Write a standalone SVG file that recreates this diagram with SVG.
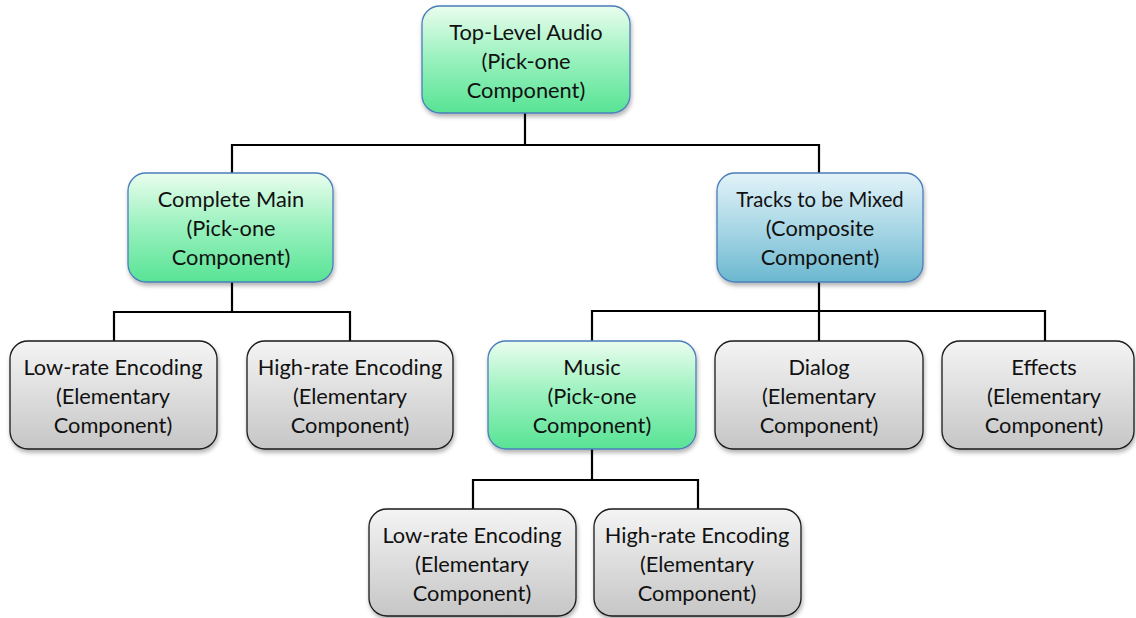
<svg xmlns="http://www.w3.org/2000/svg" width="1136" height="618" viewBox="0 0 1136 618">
<style>
  .n text{font-family:Lato,"Open Sans","Liberation Sans",sans-serif;font-size:21.8px;fill:#111;text-anchor:middle}
  .g rect{fill:url(#gGreen);stroke:#4a7ebb;stroke-width:1.3}
  .b rect{fill:url(#gBlue);stroke:#4a7ebb;stroke-width:1.3}
  .e rect{fill:url(#gGray);stroke:#1a1a1a;stroke-width:1.3}
  .n rect{filter:url(#sh)}
  #connectors path{fill:none;stroke:#000;stroke-width:2.2}
</style>
<defs>
  <linearGradient id="gGreen" x1="0" y1="0" x2="0" y2="1">
    <stop offset="0" stop-color="#eafdee"/>
    <stop offset="0.5" stop-color="#98f1bd"/>
    <stop offset="1" stop-color="#58e395"/>
  </linearGradient>
  <linearGradient id="gBlue" x1="0" y1="0" x2="0" y2="1">
    <stop offset="0" stop-color="#e2f2f8"/>
    <stop offset="0.5" stop-color="#a9d7e6"/>
    <stop offset="1" stop-color="#6bb8cf"/>
  </linearGradient>
  <linearGradient id="gGray" x1="0" y1="0" x2="0" y2="1">
    <stop offset="0" stop-color="#f4f4f4"/>
    <stop offset="1" stop-color="#c6c6c6"/>
  </linearGradient>
  <filter id="sh" x="-10%" y="-10%" width="120%" height="130%">
    <feDropShadow dx="1" dy="3" stdDeviation="2" flood-color="#000" flood-opacity="0.3"/>
  </filter>
</defs>
<rect width="1136" height="618" fill="#fff"/>
<g id="connectors">
  <path d="M525 113V145M232 173V145H819V173"/>
  <path d="M232 282V312M114 341V312H350V341"/>
  <path d="M819 282V311M592 341V311H1045V341M819 311V341"/>
  <path d="M592 449V480M473 509V480H698V509"/>
</g>
<g id="top" class="n g">
  <rect x="422" y="6" width="208" height="107" rx="18"/>
  <text x="526" y="40">Top-Level Audio</text>
  <text x="526" y="69">(Pick-one</text>
  <text x="526" y="98">Component)</text>
</g>
<g id="completeMain" class="n g">
  <rect x="128" y="173" width="205" height="109" rx="18"/>
  <text x="231" y="207">Complete Main</text>
  <text x="231" y="236">(Pick-one</text>
  <text x="231" y="265">Component)</text>
</g>
<g id="tracks" class="n b">
  <rect x="717" y="173" width="206" height="109" rx="18"/>
  <text x="820" y="207" style="font-size:20.3px">Tracks to be Mixed</text>
  <text x="820" y="236">(Composite</text>
  <text x="820" y="265">Component)</text>
</g>
<g id="lowMain" class="n e">
  <rect x="10" y="341" width="207" height="108" rx="18"/>
  <text x="113" y="375">Low-rate Encoding</text>
  <text x="113" y="404">(Elementary</text>
  <text x="113" y="433">Component)</text>
</g>
<g id="highMain" class="n e">
  <rect x="247" y="341" width="206" height="108" rx="18"/>
  <text x="350" y="375">High-rate Encoding</text>
  <text x="350" y="404">(Elementary</text>
  <text x="350" y="433">Component)</text>
</g>
<g id="music" class="n g">
  <rect x="488" y="341" width="208" height="108" rx="18"/>
  <text x="592" y="375">Music</text>
  <text x="592" y="404">(Pick-one</text>
  <text x="592" y="433">Component)</text>
</g>
<g id="dialog" class="n e">
  <rect x="715" y="341" width="208" height="108" rx="18"/>
  <text x="819" y="375">Dialog</text>
  <text x="819" y="404">(Elementary</text>
  <text x="819" y="433">Component)</text>
</g>
<g id="effects" class="n e">
  <rect x="942" y="341" width="192" height="108" rx="18"/>
  <text x="1044" y="375">Effects</text>
  <text x="1044" y="404">(Elementary</text>
  <text x="1044" y="433">Component)</text>
</g>
<g id="lowMusic" class="n e">
  <rect x="369" y="509" width="207" height="107" rx="18"/>
  <text x="472" y="543">Low-rate Encoding</text>
  <text x="472" y="572">(Elementary</text>
  <text x="472" y="601">Component)</text>
</g>
<g id="highMusic" class="n e">
  <rect x="594" y="509" width="207" height="107" rx="18"/>
  <text x="697" y="543">High-rate Encoding</text>
  <text x="697" y="572">(Elementary</text>
  <text x="697" y="601">Component)</text>
</g>
</svg>
